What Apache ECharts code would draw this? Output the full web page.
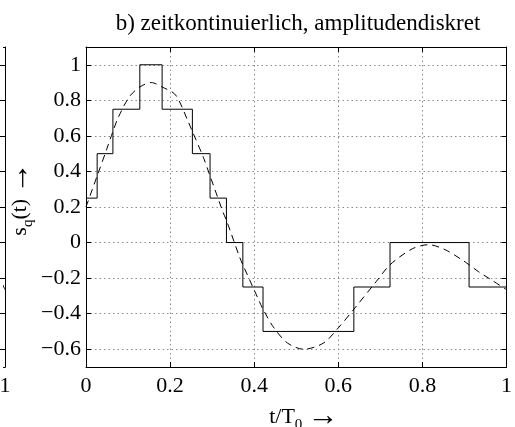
<!DOCTYPE html>
<html>
<head>
<meta charset="utf-8">
<script src="https://cdn.jsdelivr.net/npm/echarts@6/dist/echarts.min.js"></script>
<style>
  html, body { margin: 0; padding: 0; background: #fff; }
  #chart { width: 515px; height: 427px; }
</style>
</head>
<body>
<div id="chart"></div>
<script>
// Quantized signal: switching instants (t/T0) and the level held from each instant
const stepTimes  = [0, 0.0265, 0.064, 0.128, 0.181, 0.253, 0.295, 0.334, 0.373, 0.421, 0.637, 0.723, 0.911];
const stepLevels = [0.25, 0.5, 0.75, 1, 0.75, 0.5, 0.25, 0, -0.25, -0.5, -0.25, 0, -0.25];
const stepEnd = 1;

// Continuous-amplitude signal, sampled points (t/T0, value)
const curveT = [0, 0.0265, 0.05, 0.064, 0.076, 0.103, 0.128, 0.155, 0.181, 0.213, 0.244, 0.253,
                0.279, 0.295, 0.326, 0.334, 0.365, 0.373, 0.412, 0.421, 0.447, 0.479, 0.518,
                0.565, 0.600, 0.637, 0.690, 0.723, 0.776, 0.815, 0.854, 0.894, 0.911, 0.933, 0.964, 1.0];
const curveV = [0.20, 0.375, 0.53, 0.625, 0.70, 0.82, 0.875, 0.90, 0.875, 0.83, 0.675, 0.625,
                0.48, 0.375, 0.17, 0.125, -0.08, -0.125, -0.33, -0.375, -0.48, -0.565, -0.60,
                -0.565, -0.48, -0.375, -0.22, -0.125, -0.035, -0.012, -0.04, -0.097, -0.125, -0.163, -0.21, -0.265];

// Axis ranges and tick values
const xMin = 0, xMax = 1;
const xTicks = [0, 0.2, 0.4, 0.6, 0.8, 1];
const yMin = -0.7, yMax = 1.1;
const yTicks = [-0.6, -0.4, -0.2, 0, 0.2, 0.4, 0.6, 0.8, 1];

const titleText = 'b) zeitkontinuierlich, amplitudendiskret';

const FONT = '"Liberation Serif", "Times New Roman", serif';
const FS = 22;

// Plot frame of the main panel (pixels)
const PL = 86, PR = 3, PT = 47, PB = 60;
const plotW = 515 - PL - PR;
// Visible slice of the neighbouring panel on the left edge
const sliceW = 5;

const stepData = stepTimes.map((t, i) => [t, stepLevels[i]]);
stepData.push([stepEnd, stepLevels[stepLevels.length - 1]]);
const curveData = curveT.map((t, i) => [t, curveV[i]]);

const fmt = v => {
  const r = Math.round(v * 10) / 10;
  return (r < 0 ? '\u2212' : '') + String(Math.abs(r));
};

const lineCol = { color: '#000', width: 1 };
const gridLine = { show: true, lineStyle: { color: '#8c8c8c', width: 1, type: [1.5, 3] } };
const labelStyle = { color: '#000', fontFamily: FONT, fontSize: FS };

function axis(extra, ticks) {
  return Object.assign({
    type: 'value',
    axisLine: { show: true, onZero: false, lineStyle: lineCol },
    axisTick: { show: true, inside: true, length: 5, lineStyle: lineCol, customValues: ticks },
    splitLine: { show: false },
    axisLabel: { show: false }
  }, extra);
}

// rich-text pieces shared by both axis captions
const captionRich = {
  sub: { fontFamily: FONT, fontSize: 15, verticalAlign: 'bottom', padding: [8, 0, 0, 0] },
  arr: { fontFamily: FONT, fontSize: 31 }
};

const chart = echarts.init(document.getElementById('chart'), null, { renderer: 'canvas' });
chart.setOption({
  animation: false,
  backgroundColor: '#fff',
  grid: [
    { left: PL, right: PR, top: PT, bottom: PB },
    { left: 0, width: sliceW, top: PT, bottom: PB }
  ],
  xAxis: [
    axis({
      gridIndex: 0, position: 'bottom', min: xMin, max: xMax,
      splitLine: gridLine,
      axisLabel: Object.assign({ show: true, margin: 8, formatter: fmt, customValues: xTicks }, labelStyle)
    }, xTicks),
    axis({ gridIndex: 0, position: 'top', min: xMin, max: xMax }, xTicks),
    axis({
      gridIndex: 1, position: 'bottom', min: xMax - sliceW / plotW, max: xMax,
      axisTick: { show: false },
      axisLabel: Object.assign({ show: true, margin: 8, formatter: fmt, customValues: [xMax] }, labelStyle)
    }, [xMax]),
    axis({ gridIndex: 1, position: 'top', min: xMax - sliceW / plotW, max: xMax, axisTick: { show: false } }, [xMax])
  ],
  yAxis: [
    axis({
      gridIndex: 0, position: 'left', min: yMin, max: yMax,
      splitLine: gridLine,
      axisLabel: Object.assign({ show: true, margin: 5, formatter: fmt, customValues: yTicks }, labelStyle)
    }, yTicks),
    axis({ gridIndex: 0, position: 'right', min: yMin, max: yMax }, yTicks),
    axis({ gridIndex: 1, position: 'right', min: yMin, max: yMax }, yTicks)
  ],
  series: [
    {
      type: 'line', xAxisIndex: 0, yAxisIndex: 0, data: stepData, step: 'end',
      showSymbol: false, lineStyle: { color: '#000', width: 1 }, z: 3
    },
    {
      type: 'line', xAxisIndex: 0, yAxisIndex: 0, data: curveData, smooth: 0.3,
      showSymbol: false, lineStyle: { color: '#000', width: 1, type: [7, 5] }, z: 4
    },
    {
      type: 'line', xAxisIndex: 2, yAxisIndex: 2, data: curveData, smooth: 0.3,
      showSymbol: false, lineStyle: { color: '#000', width: 1 }
    }
  ],
  graphic: [
    {
      type: 'text', x: 298, y: 24,
      style: { text: titleText, fill: '#000', font: '23px ' + FONT, align: 'center', verticalAlign: 'middle' }
    },
    {
      type: 'text', x: 20, y: 199, rotation: Math.PI / 2,
      style: {
        text: 's{sub|q}(t) {arr|\u2192}', fill: '#000', font: FS + 'px ' + FONT,
        align: 'center', verticalAlign: 'middle', rich: captionRich
      }
    },
    {
      type: 'text', x: 304, y: 417,
      style: {
        text: 't/T{sub|0} {arr|\u2192}', fill: '#000', font: FS + 'px ' + FONT,
        align: 'center', verticalAlign: 'middle', rich: captionRich
      }
    }
  ]
});
</script>
</body>
</html>
